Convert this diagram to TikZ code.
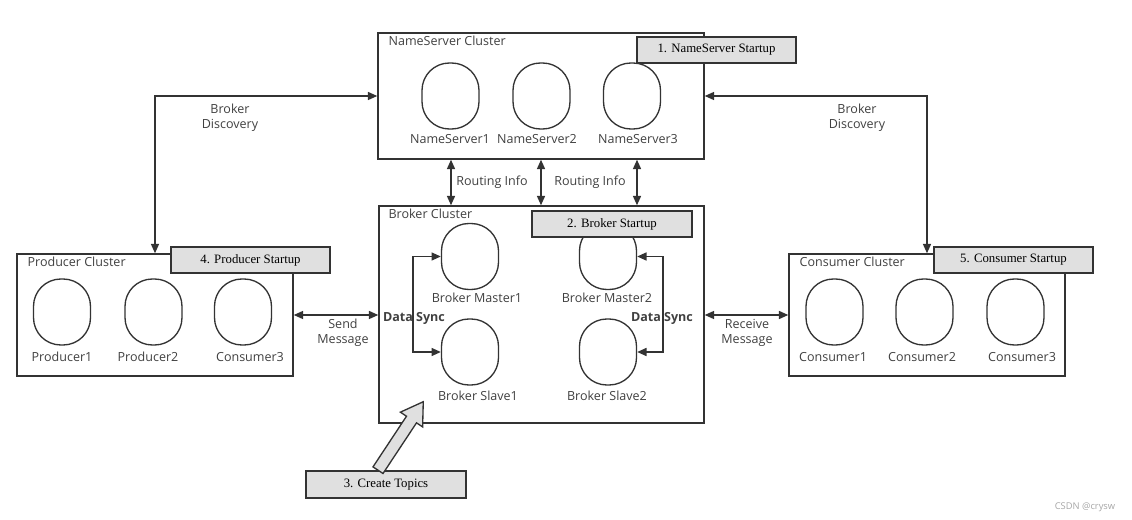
\documentclass[tikz,border=0pt]{standalone}
\usepackage{fontspec}
\usepackage{xcolor}
\usetikzlibrary{arrows.meta,positioning,calc}
\newfontfamily\lblfont{Open Sans}
\newfontfamily\stepfont{Liberation Serif}
\definecolor{linec}{HTML}{333333}
\definecolor{textc}{HTML}{404040}
\definecolor{boxgray}{HTML}{E0E0E0}

\begin{document}
\begin{tikzpicture}[
  x=0.75pt, y=-0.75pt,
  cluster/.style={draw=linec, line width=1.1pt, inner sep=0pt},
  srv/.style={draw=linec, line width=1pt, rounded corners=20.5pt, minimum width=42.75pt,
              minimum height=49.5pt, inner sep=0pt},
  stepbox/.style={draw=linec, line width=1.2pt, fill=boxgray, minimum width=119.25pt,
                  minimum height=19.5pt, inner sep=0pt, font=\stepfont\fontsize{9.6}{11}\selectfont},
  txt/.style={font=\lblfont\fontsize{9.4}{11.5}\selectfont, text=textc, inner sep=1pt, align=center},
  title/.style={txt, anchor=west},
  arrow/.style={{Triangle[length=7pt,width=6pt]}-{Triangle[length=7pt,width=6pt]},
                line width=1.1pt, draw=linec}
]
\useasboundingbox (0,0) rectangle (1132,520);

% clusters
\node[cluster, minimum width=244.5pt, minimum height=94.5pt] (ns) at (541,96) {};
\node[cluster, minimum width=243.75pt, minimum height=162.75pt] (bk) at (541.5,314.5) {};
\node[cluster, minimum width=207pt, minimum height=91.5pt] (pc) at (155,315) {};
\node[cluster, minimum width=207pt, minimum height=91.5pt] (cc) at (927,315) {};

\node[title] (nst) at (387,41) {NameServer Cluster};
\node[title] (bkt) at (387,214) {Broker Cluster};
\node[title] (pct) at (26,262) {Producer Cluster};
\node[title] (cct) at (798,262) {Consumer Cluster};

% servers
\node[srv] (ns1) at (450.5,96) {};
\node[srv] (ns2) at (541.5,96) {};
\node[srv] (ns3) at (632,96) {};
\node[txt] (ns1t) at (450,139) {NameServer1};
\node[txt] (ns2t) at (537,139) {NameServer2};
\node[txt] (ns3t) at (638,139) {NameServer3};

\node[srv] (bm1) at (470,256.5) {};
\node[srv] (bm2) at (608,256.5) {};
\node[srv] (bs1) at (470,352) {};
\node[srv] (bs2) at (608,352) {};
\node[txt] (bm1t) at (477,298) {Broker Master1};
\node[txt] (bm2t) at (607,298) {Broker Master2};
\node[txt] (bs1t) at (478,396) {Broker Slave1};
\node[txt] (bs2t) at (607,396) {Broker Slave2};

\node[srv] (p1) at (62,312) {};
\node[srv] (p2) at (153.5,312) {};
\node[srv] (p3) at (243,312) {};
\node[txt] (p1t) at (62,357) {Producer1};
\node[txt] (p2t) at (148,357) {Producer2};
\node[txt] (p3t) at (250,357) {Consumer3};

\node[srv] (c1) at (834.5,312) {};
\node[srv] (c2) at (924.5,312) {};
\node[srv] (c3) at (1015.5,312) {};
\node[txt] (c1t) at (833,357) {Consumer1};
\node[txt] (c2t) at (922,357) {Consumer2};
\node[txt] (c3t) at (1022,357) {Consumer3};

% startup steps
\node[stepbox] (s1) at (716.5,50) {1. NameServer Startup};
\node[stepbox, minimum width=120pt] (s2) at (612,224) {2. Broker Startup};
\node[stepbox, minimum width=120pt, minimum height=20.25pt] (s3) at (386,484.5) {3. Create Topics};
\node[stepbox] (s4) at (250.5,260) {4. Producer Startup};
\node[stepbox] (s5) at (1013.5,260) {5. Consumer Startup};

% connectors
\draw[arrow] ([xshift=-67.5pt]ns.south) -- ([xshift=-67.5pt]ns.south |- bk.north);
\draw[arrow] (ns.south) -- (ns.south |- bk.north);
\draw[arrow] ([xshift=72pt]ns.south) -- ([xshift=72pt]ns.south |- bk.north);
\node[txt] (ri1) at (492,182) {Routing Info};
\node[txt] (ri2) at (590,182) {Routing Info};

\draw[arrow] (ns.west) -| (pc.north);
\draw[arrow] (ns.east) -| (cc.north);
\node[txt] (bd1) at (230,118) {Broker\\Discovery};
\node[txt] (bd2) at (857,118) {Broker\\Discovery};

\draw[arrow] (pc.east) -- (bk.west |- pc.east);
\draw[arrow] (bk.east |- cc.west) -- (cc.west);
\node[txt] (sm) at (343,333) {Send\\Message};
\node[txt] (rm) at (747,333) {Receive\\Message};

\draw[arrow] (bm1.west) -- ++(-28,0) |- (bs1.west);
\draw[arrow] (bm2.east) -- ++(26,0) |- (bs2.east);
\node[txt, font=\lblfont\bfseries\fontsize{9.4}{11.5}\selectfont] (ds1) at (414,318) {Data Sync};
\node[txt, font=\lblfont\bfseries\fontsize{9.4}{11.5}\selectfont] (ds2) at (662,318) {Data Sync};

\coordinate (ctb) at ([xshift=-6pt]s3.north);
\coordinate (cttip) at ([xshift=33.75pt, yshift=16.5pt]bk.south west);
\coordinate (hb) at ($(cttip)!16pt!(ctb)$);
\draw[linec, line width=1pt, fill=boxgray, line join=miter]
  ($(ctb)!4.5pt!90:(cttip)$) -- ($(hb)!4.5pt!90:(cttip)$) -- ($(hb)!10pt!90:(cttip)$)
  -- (cttip) -- ($(hb)!10pt!-90:(cttip)$) -- ($(hb)!4.5pt!-90:(cttip)$)
  -- ($(ctb)!4.5pt!-90:(cttip)$) -- cycle;

\node[txt, font=\lblfont\fontsize{7}{8}\selectfont, text=gray!70] (wm) at (1085,507) {CSDN @crysw};
\end{tikzpicture}
\end{document}
